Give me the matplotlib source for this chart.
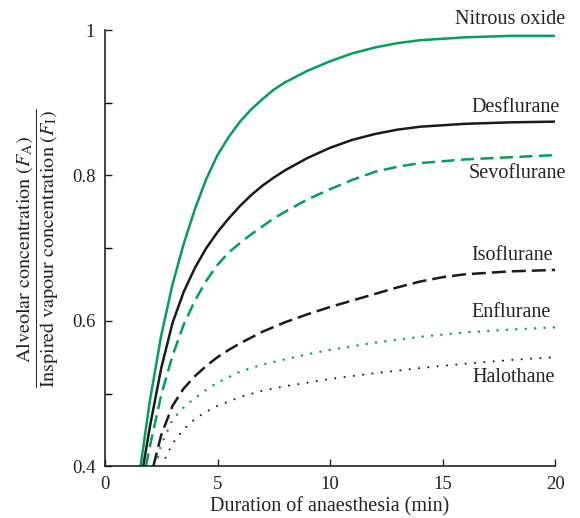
import matplotlib.pyplot as plt
import numpy as np

plt.rcParams['font.family'] = ['Liberation Serif', 'DejaVu Serif']
plt.rcParams['mathtext.fontset'] = 'stix'

green = '#00a05a'
black = '#1a1a1a'

# time (min) and FA/FI
t_n2o = [1.58, 2.0, 2.5, 3.0, 3.5, 4.0, 4.5, 5.0, 5.5, 6.0, 6.5, 7.0, 7.5, 8.0,
         9.0, 10, 11, 12, 13, 14, 16, 18, 20]
v_n2o = [0.400, 0.491, 0.580, 0.650, 0.706, 0.754, 0.795, 0.828, 0.853, 0.874, 0.891, 0.905,
         0.918, 0.928, 0.944, 0.957, 0.968, 0.976, 0.982, 0.986, 0.990, 0.992, 0.992]

t_des = [1.70, 2.0, 2.5, 3.0, 3.5, 4.0, 4.5, 5.0, 5.5, 6.0, 6.5, 7.0, 7.5, 8.0,
         9.0, 10, 11, 12, 13, 14, 16, 18, 20]
v_des = [0.400, 0.455, 0.535, 0.597, 0.640, 0.673, 0.700, 0.722, 0.741, 0.758, 0.773, 0.786,
         0.797, 0.807, 0.824, 0.838, 0.849, 0.857, 0.863, 0.867, 0.871, 0.873, 0.874]

t_sev = [1.82, 2.0, 2.5, 3.0, 3.5, 4.0, 4.5, 5.0, 5.5, 6.0, 6.5, 7.0, 7.5, 8.0,
         9.0, 10, 11, 12, 13, 14, 16, 18, 20]
v_sev = [0.400, 0.428, 0.498, 0.552, 0.595, 0.628, 0.655, 0.677, 0.694, 0.707, 0.719, 0.730,
         0.741, 0.750, 0.767, 0.781, 0.794, 0.805, 0.812, 0.817, 0.822, 0.825, 0.828]

t_iso = [2.15, 2.5, 3.0, 3.5, 4.0, 4.5, 5.0, 5.5, 6.0, 7.0, 8.0, 9.0, 10, 11,
         12, 13, 14, 15, 16, 17, 18, 20]
v_iso = [0.400, 0.443, 0.483, 0.507, 0.524, 0.538, 0.550, 0.560, 0.569, 0.585, 0.598, 0.609,
         0.619, 0.628, 0.637, 0.646, 0.654, 0.660, 0.664, 0.666, 0.668, 0.670]

t_enf = [2.25, 2.5, 3.0, 3.5, 4.0, 4.5, 5.0, 6.0, 7.0, 8.0, 9.0, 10, 12, 14, 16, 18, 20]
v_enf = [0.400, 0.430, 0.464, 0.481, 0.494, 0.505, 0.515, 0.530, 0.540, 0.547, 0.554, 0.560,
         0.570, 0.578, 0.584, 0.588, 0.591]

t_hal = [2.5, 3.0, 3.5, 4.0, 4.5, 5.0, 6.0, 7.0, 8.0, 9.0, 10, 12, 14, 16, 18, 20]
v_hal = [0.400, 0.431, 0.451, 0.465, 0.475, 0.483, 0.495, 0.504, 0.510, 0.515, 0.520, 0.528,
         0.535, 0.541, 0.546, 0.550]

names = ['Nitrous oxide', 'Desflurane', 'Sevoflurane', 'Isoflurane', 'Enflurane', 'Halothane']
label_x = [20.45, 20.2, 20.5, 19.9, 19.8, 20.0]
label_y = [1.014, 0.893, 0.803, 0.690, 0.612, 0.522]

fig = plt.figure(figsize=(5.8, 5.18), dpi=100)
ax = fig.add_axes([0.181, 0.100, 0.776, 0.842])

lw = 1.8
ax.plot(t_n2o, v_n2o, color=green, lw=lw)
ax.plot(t_des, v_des, color=black, lw=lw)
ax.plot(t_sev, v_sev, color=green, lw=lw, dashes=(5.2, 2.6))
ax.plot(t_iso, v_iso, color=black, lw=lw, dashes=(5.6, 2.4))
ax.plot(t_enf, v_enf, color=green, lw=lw, dashes=(0.01, 3.75), dash_capstyle='round')
ax.plot(t_hal, v_hal, color=black, lw=lw * 0.85, dashes=(0.01, 4.4), dash_capstyle='round')

for name, x, y in zip(names, label_x, label_y):
    ax.text(x, y, name, ha='right', va='center', fontsize=14.5, color='#222222',
            clip_on=False)

ax.set_xlim(0, 20)
ax.set_ylim(0.4, 1.0)
ax.set_xticks([0, 5, 10, 15, 20])
ax.set_xticklabels(['0', '5', '10', '15', '20'])
ax.set_yticks([0.4, 0.6, 0.8, 1.0])
ax.set_yticklabels(['0.4', '0.6', '0.8', '1'])
ax.set_yticks([0.5, 0.7, 0.9], minor=True)
ax.tick_params(direction='in', length=5, width=1, labelsize=13.5, colors='#222222', pad=7)
ax.tick_params(which='minor', direction='in', length=5, width=1)
for s in ['top', 'right']:
    ax.spines[s].set_visible(False)
for s in ['left', 'bottom']:
    ax.spines[s].set_linewidth(1.2)
    ax.spines[s].set_color('#222222')

ax.set_xlabel('Duration of anaesthesia (min)', fontsize=14.5, color='#222222', labelpad=3)
ax.set_ylabel(r'$\dfrac{\mathrm{Alveolar\ concentration\ }(F_\mathrm{A})}'
              r'{\mathrm{Inspired\ vapour\ concentration\ }(F_\mathrm{I})}$',
              fontsize=14.5, color='#222222', labelpad=8)

fig.savefig('out.png', dpi=100)
